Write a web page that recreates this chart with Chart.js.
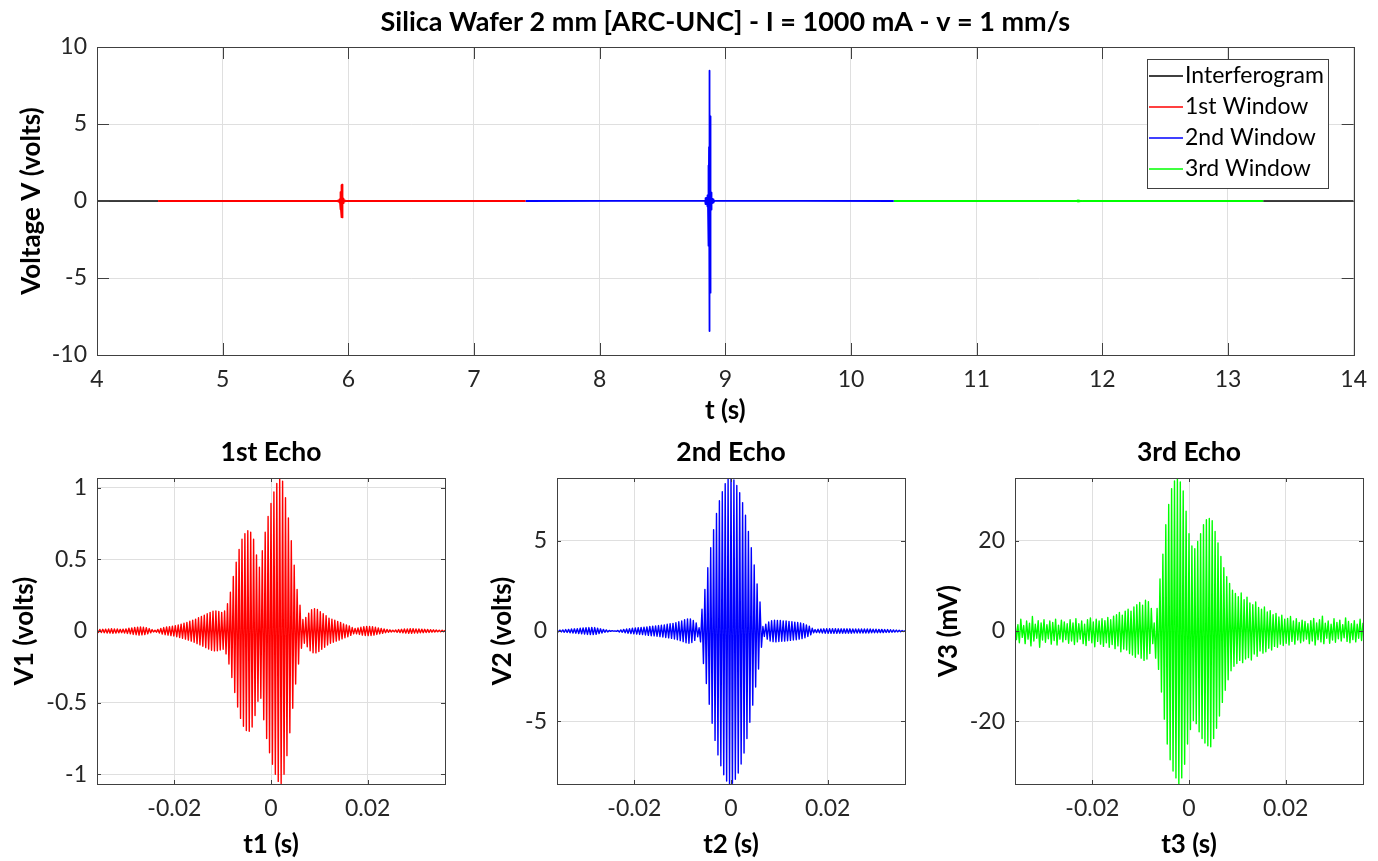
<!DOCTYPE html>
<html>
<head>
<meta charset="utf-8">
<title>Silica Wafer 2 mm [ARC-UNC]</title>
<script src="https://cdn.jsdelivr.net/npm/chart.js@4.4.0/dist/chart.umd.min.js"></script>
<style>
  html, body { margin: 0; padding: 0; background: #fff; }
  #wrap { position: relative; width: 1378px; height: 861px; overflow: hidden; }
  canvas { position: absolute; }
</style>
</head>
<body>
<div id="wrap">
  <canvas id="main" width="1378" height="430" style="left:0px;top:0px"></canvas>
  <canvas id="echo1" width="460" height="431" style="left:0px;top:430px"></canvas>
  <canvas id="echo2" width="460" height="431" style="left:460px;top:430px"></canvas>
  <canvas id="echo3" width="460" height="431" style="left:918px;top:430px"></canvas>
</div>
<script>
// ---- top plot (full interferogram) ----
const mainXTicks = [4, 5, 6, 7, 8, 9, 10, 11, 12, 13, 14];
const mainYTicks = [-10, -5, 0, 5, 10];
const windowEdges = [4.486, 7.41, 10.34, 13.28];   // 1st start, 1st/2nd, 2nd/3rd, 3rd end (s)
const echoCenters = [5.948, 8.875, 11.81];          // centre of each echo in t (s)
const seriesNames = ['Interferogram', '1st Window', '2nd Window', '3rd Window'];
const seriesColors = ['#000000', '#ff0000', '#0000ff', '#00ff00'];

// ---- echo windows ----
const echoXTicks = [-0.02, 0, 0.02];
const echo1YTicks = [-1, -0.5, 0, 0.5, 1];
const echo2YTicks = [-5, 0, 5];
const echo3YTicks = [-20, 0, 20];

// fringe peaks: upper peaks every 0.6 ms from -36 ms,
// lower peaks in between (offset 0.3 ms)
const echoT0 = -0.036;
const echoDT = 0.0003;

// 1st echo (volts)
const v1Hi = [
  0.010, 0.011, 0.012, 0.013, 0.014, 0.016, 0.015, 0.014, 0.012, 0.013,
  0.015, 0.019, 0.022, 0.025, 0.027, 0.028, 0.026, 0.023, 0.017, 0.010,
  0.005, 0.011, 0.018, 0.024, 0.028, 0.030, 0.034, 0.037, 0.042, 0.048,
  0.054, 0.060, 0.068, 0.075, 0.083, 0.092, 0.102, 0.111, 0.121, 0.130,
  0.138, 0.140, 0.136, 0.130, 0.140, 0.190, 0.270, 0.380, 0.480, 0.570,
  0.640, 0.680, 0.700, 0.690, 0.640, 0.530, 0.445, 0.560, 0.690, 0.800,
  0.890, 0.970, 1.030, 1.068, 1.045, 0.930, 0.790, 0.630, 0.460, 0.290,
  0.180, 0.080, 0.095, 0.125, 0.148, 0.155, 0.150, 0.135, 0.120, 0.106,
  0.090, 0.082, 0.075, 0.067, 0.060, 0.050, 0.043, 0.036, 0.024, 0.018,
  0.022, 0.026, 0.030, 0.032, 0.031, 0.030, 0.026, 0.022, 0.018, 0.014,
  0.011, 0.008, 0.006, 0.007, 0.010, 0.012, 0.014, 0.015, 0.016, 0.016,
  0.015, 0.014, 0.013, 0.012, 0.011, 0.009, 0.008, 0.007, 0.006, 0.006,
  0.005
];
const v1Lo = [
  -0.010, -0.011, -0.012, -0.014, -0.015, -0.016, -0.015, -0.013, -0.012, -0.014,
  -0.017, -0.020, -0.024, -0.026, -0.028, -0.027, -0.025, -0.020, -0.013, -0.007,
  -0.008, -0.014, -0.021, -0.026, -0.029, -0.032, -0.035, -0.040, -0.045, -0.051,
  -0.057, -0.064, -0.071, -0.079, -0.088, -0.097, -0.106, -0.116, -0.126, -0.134,
  -0.139, -0.138, -0.133, -0.128, -0.160, -0.230, -0.325, -0.430, -0.530, -0.610,
  -0.665, -0.695, -0.700, -0.670, -0.590, -0.490, -0.470, -0.620, -0.750, -0.850,
  -0.930, -1.000, -1.050, -1.065, -1.000, -0.870, -0.710, -0.540, -0.370, -0.230,
  -0.120, -0.085, -0.110, -0.138, -0.152, -0.153, -0.143, -0.128, -0.113, -0.098,
  -0.086, -0.078, -0.071, -0.064, -0.055, -0.047, -0.040, -0.030, -0.020, -0.019,
  -0.024, -0.028, -0.031, -0.032, -0.031, -0.028, -0.024, -0.020, -0.016, -0.012,
  -0.009, -0.007, -0.006, -0.009, -0.011, -0.013, -0.015, -0.016, -0.016, -0.015,
  -0.015, -0.013, -0.012, -0.011, -0.010, -0.008, -0.007, -0.006, -0.006, -0.005
];

// 2nd echo (volts)
const v2Hi = [
  0.03, 0.05, 0.06, 0.08, 0.09, 0.11, 0.12, 0.13, 0.15, 0.17,
  0.18, 0.19, 0.20, 0.19, 0.16, 0.12, 0.09, 0.06, 0.03, 0.02,
  0.01, 0.03, 0.06, 0.09, 0.11, 0.13, 0.15, 0.17, 0.18, 0.20,
  0.21, 0.23, 0.25, 0.27, 0.28, 0.30, 0.32, 0.34, 0.37, 0.40,
  0.42, 0.46, 0.51, 0.55, 0.62, 0.67, 0.67, 0.58, 0.45, 0.18,
  1.20, 2.30, 3.50, 4.60, 5.60, 6.50, 7.20, 7.70, 8.15, 8.40,
  8.46, 8.35, 8.05, 7.65, 7.10, 6.40, 5.50, 4.60, 3.65, 2.60,
  1.60, 0.25, 0.38, 0.50, 0.57, 0.60, 0.59, 0.58, 0.56, 0.55,
  0.53, 0.51, 0.49, 0.47, 0.44, 0.40, 0.34, 0.27, 0.15, 0.08,
  0.10, 0.11, 0.12, 0.13, 0.13, 0.13, 0.13, 0.12, 0.12, 0.12,
  0.12, 0.12, 0.11, 0.11, 0.11, 0.11, 0.11, 0.11, 0.11, 0.10,
  0.10, 0.09, 0.09, 0.08, 0.08, 0.07, 0.06, 0.05, 0.04, 0.03,
  0.02
];
const v2Lo = [
  -0.04, -0.05, -0.07, -0.08, -0.10, -0.11, -0.12, -0.14, -0.16, -0.17,
  -0.19, -0.20, -0.20, -0.18, -0.14, -0.11, -0.07, -0.05, -0.02, -0.01,
  -0.02, -0.05, -0.07, -0.10, -0.12, -0.14, -0.16, -0.17, -0.19, -0.20,
  -0.22, -0.24, -0.26, -0.27, -0.29, -0.31, -0.33, -0.36, -0.38, -0.41,
  -0.44, -0.48, -0.53, -0.59, -0.65, -0.68, -0.64, -0.52, -0.32, -0.60,
  -1.80, -2.90, -4.05, -5.10, -6.05, -6.85, -7.45, -7.95, -8.30, -8.44,
  -8.42, -8.20, -7.85, -7.35, -6.75, -5.95, -5.05, -4.10, -3.10, -2.10,
  -0.90, -0.30, -0.45, -0.55, -0.59, -0.60, -0.58, -0.57, -0.56, -0.54,
  -0.52, -0.50, -0.48, -0.45, -0.42, -0.37, -0.30, -0.21, -0.10, -0.09,
  -0.10, -0.11, -0.12, -0.13, -0.13, -0.13, -0.13, -0.12, -0.12, -0.12,
  -0.12, -0.12, -0.11, -0.11, -0.11, -0.11, -0.11, -0.11, -0.10, -0.10,
  -0.10, -0.09, -0.09, -0.08, -0.08, -0.07, -0.06, -0.05, -0.04, -0.03
];

// 3rd echo (mV)
const v3Hi = [
  2.1, 1.4, 2.6, 1.2, 2.2, 1.7, 3.2, 1.5, 2.3, 1.8,
  2.5, 1.4, 2.2, 1.9, 2.6, 1.3, 2.4, 2.0, 1.6, 2.5,
  1.8, 2.7, 1.6, 2.2, 1.5, 2.5, 2.9, 2.0, 2.6, 2.2,
  2.7, 2.3, 3.0, 2.5, 3.3, 3.6, 4.1, 3.5, 4.4, 4.8,
  4.4, 5.3, 5.8, 6.3, 5.7, 6.8, 6.5, 5.0, 1.8, 5.0,
  11.5, 17.0, 23.5, 28.0, 31.5, 33.2, 33.8, 33.0, 31.0, 26.5,
  21.5, 18.8, 18.2, 19.8, 21.5, 23.5, 24.6, 24.9, 24.4, 22.0,
  19.5, 16.5, 14.0, 12.0, 10.5, 9.0, 8.3, 7.6, 8.4, 6.9,
  7.5, 6.2, 5.8, 6.4, 5.2, 4.8, 5.3, 4.2, 4.5, 3.6,
  3.9, 3.1, 3.5, 2.6, 2.8, 3.2, 2.2, 2.7, 1.9, 2.4,
  2.1, 1.6, 2.3, 2.8, 1.8, 2.5, 3.3, 1.7, 2.2, 1.5,
  2.7, 1.9, 2.4, 1.4, 2.9, 2.1, 1.6, 2.3, 1.5, 2.6,
  1.8
];
const v3Lo = [
  -1.9, -2.6, -1.4, -2.8, -1.8, -3.3, -2.2, -1.6, -3.6, -2.0,
  -2.5, -1.7, -2.9, -2.1, -3.1, -1.8, -2.4, -1.9, -2.7, -2.2,
  -3.0, -2.4, -1.8, -2.8, -3.2, -2.1, -2.6, -3.5, -2.3, -2.9,
  -3.4, -2.6, -3.6, -3.0, -3.9, -3.3, -4.6, -4.0, -4.2, -5.0,
  -5.3, -5.8, -5.1, -6.0, -6.5, -6.2, -5.0, -2.8, -6.0, -8.5,
  -13.5, -19.5, -25.0, -28.5, -31.0, -32.5, -33.8, -32.5, -29.5, -25.0,
  -21.8, -19.8, -20.5, -22.3, -23.8, -24.8, -25.4, -25.6, -23.8, -21.5,
  -18.8, -15.8, -13.1, -10.8, -8.8, -7.8, -7.2, -6.5, -7.0, -6.2,
  -5.9, -6.4, -5.1, -5.6, -4.4, -4.9, -4.6, -3.8, -4.2, -3.4,
  -3.6, -2.9, -3.2, -2.7, -3.1, -2.3, -2.9, -2.0, -2.6, -2.2,
  -1.8, -2.8, -2.2, -3.1, -1.9, -2.4, -2.8, -1.6, -2.7, -2.0,
  -2.5, -1.7, -2.2, -1.5, -2.3, -2.6, -1.9, -2.4, -1.6, -2.1
];

/**
 * Interleave upper and lower fringe peaks into one {x, y} series
 */
function buildEcho(hi, lo, scale) {
  const pts = [];
  const n = hi.length + lo.length;
  for (let i = 0; i < n; i++) {
    const v = i % 2 === 0 ? hi[i / 2] : lo[(i - 1) / 2];
    pts.push({ x: +(echoT0 + i * echoDT).toFixed(5), y: v * scale });
  }
  return pts;
}

function shiftTo(pts, t0) {
  return pts.map(p => ({ x: t0 + p.x, y: p.y }));
}

const echo1 = buildEcho(v1Hi, v1Lo, 1);
const echo2 = buildEcho(v2Hi, v2Lo, 1);
const echo3 = buildEcho(v3Hi, v3Lo, 1);          // mV
const echo3Volts = buildEcho(v3Hi, v3Lo, 0.001); // for the top plot

const echoInMain = [
  shiftTo(echo1, echoCenters[0]),
  shiftTo(echo2, echoCenters[1]),
  shiftTo(echo3Volts, echoCenters[2])
];

const tStart = mainXTicks[0];
const tEnd = mainXTicks[mainXTicks.length - 1];
const interferogram = [{ x: tStart, y: 0 }, { x: windowEdges[0], y: 0 }]
  .concat(echoInMain[0], echoInMain[1], echoInMain[2])
  .concat([{ x: windowEdges[3], y: 0 }, { x: tEnd, y: 0 }]);

function windowSeries(i) {
  return [{ x: windowEdges[i], y: 0 }].concat(echoInMain[i], [{ x: windowEdges[i + 1], y: 0 }]);
}

// the interferogram only shows where no window is drawn over it
function outsideWindows(ctx) {
  const a = ctx.p0.parsed.x, b = ctx.p1.parsed.x;
  return (b <= windowEdges[0] || a >= windowEdges[3]) ? '#000000' : 'rgba(0,0,0,0)';
}

// ---- shared styling ----
const FONT = 'Lato';
const tickFont = { family: FONT, size: 23 };
const labelFont = { family: FONT, size: 26, weight: 'bold' };

// MATLAB-like box with inward tick marks
const matlabBox = {
  id: 'matlabBox',
  afterDatasetsDraw(chart, args, opts) {
    const { ctx, chartArea: a, scales: { x, y } } = chart;
    const len = opts.tickLen || 4;
    ctx.save();
    ctx.strokeStyle = '#404040';
    ctx.lineWidth = 1;
    ctx.beginPath();
    x.ticks.forEach(t => {
      const px = Math.round(x.getPixelForValue(t.value)) + 0.5;
      ctx.moveTo(px, a.bottom); ctx.lineTo(px, a.bottom - len);
      ctx.moveTo(px, a.top); ctx.lineTo(px, a.top + len);
    });
    y.ticks.forEach(t => {
      const py = Math.round(y.getPixelForValue(t.value)) + 0.5;
      ctx.moveTo(a.left, py); ctx.lineTo(a.left + len, py);
      ctx.moveTo(a.right, py); ctx.lineTo(a.right - len, py);
    });
    ctx.stroke();
    ctx.strokeRect(Math.round(a.left) + 0.5, Math.round(a.top) + 0.5,
      Math.round(a.right - a.left), Math.round(a.bottom - a.top));
    ctx.restore();
  }
};

// title centred over the plot area
const panelTitle = {
  id: 'panelTitle',
  afterDraw(chart, args, opts) {
    if (!opts.text) return;
    const { ctx, chartArea: a } = chart;
    ctx.save();
    ctx.font = 'bold ' + opts.size + 'px ' + FONT;
    ctx.fillStyle = '#000';
    ctx.textAlign = 'center';
    ctx.textBaseline = 'middle';
    ctx.fillText(opts.text, (a.left + a.right) / 2, opts.y);
    ctx.restore();
  }
};

// boxed legend inside the top plot
const boxLegend = {
  id: 'boxLegend',
  afterDraw(chart, args, opts) {
    if (!opts.show) return;
    const { ctx } = chart;
    ctx.save();
    ctx.fillStyle = '#fff';
    ctx.fillRect(opts.left, opts.top, opts.width, opts.height);
    ctx.strokeStyle = '#404040';
    ctx.lineWidth = 1;
    ctx.strokeRect(opts.left + 0.5, opts.top + 0.5, opts.width, opts.height);
    ctx.font = '23px ' + FONT;
    ctx.textAlign = 'left';
    ctx.textBaseline = 'middle';
    chart.data.datasets.forEach((ds, i) => {
      const yy = opts.top + opts.first + i * opts.row;
      ctx.strokeStyle = ds.legendColor;
      ctx.lineWidth = 1.6;
      ctx.beginPath();
      ctx.moveTo(opts.left + 2, yy);
      ctx.lineTo(opts.left + 36, yy);
      ctx.stroke();
      ctx.fillStyle = '#000';
      ctx.fillText(ds.label, opts.left + 38, yy);
    });
    ctx.restore();
  }
};

function axisOptions(cfg) {
  return {
    x: {
      type: 'linear',
      min: cfg.xMin, max: cfg.xMax,
      afterBuildTicks: s => { s.ticks = cfg.xTicks.map(v => ({ value: v })); },
      afterFit: s => { s.height = cfg.xHeight; },
      grid: { color: '#dfdfdf', drawTicks: false },
      border: { display: false },
      ticks: { font: tickFont, color: '#262626', padding: 11, maxRotation: 0, autoSkip: false,
        callback: v => String(v) },
      title: { display: true, text: cfg.xTitle, font: labelFont, color: '#000',
        padding: { top: 0, bottom: cfg.xTitlePad } }
    },
    y: {
      type: 'linear',
      min: cfg.yMin, max: cfg.yMax,
      afterBuildTicks: s => { s.ticks = cfg.yTicks.map(v => ({ value: v })); },
      afterFit: s => { s.width = 97; },
      grid: { color: '#dfdfdf', drawTicks: false },
      border: { display: false },
      ticks: { font: tickFont, color: '#262626', padding: 10, autoSkip: false,
        callback: v => String(v) },
      title: { display: true, text: cfg.yTitle, font: labelFont, color: '#000',
        padding: { top: cfg.yTitlePad, bottom: 0 } }
    }
  };
}

const baseOptions = {
  responsive: false,
  animation: false,
  events: [],
  elements: { point: { radius: 0 }, line: { tension: 0, borderJoinStyle: 'round' } }
};

// top chart
new Chart(document.getElementById('main'), {
  type: 'line',
  data: {
    datasets: [
      { label: seriesNames[0], data: interferogram, borderColor: seriesColors[0], legendColor: seriesColors[0],
        borderWidth: 1.5, order: 1, segment: { borderColor: outsideWindows } },
      { label: seriesNames[1], data: windowSeries(0), borderColor: seriesColors[1], legendColor: seriesColors[1],
        borderWidth: 1.8, order: 0 },
      { label: seriesNames[2], data: windowSeries(1), borderColor: seriesColors[2], legendColor: seriesColors[2],
        borderWidth: 1.8, order: 0 },
      { label: seriesNames[3], data: windowSeries(2), borderColor: seriesColors[3], legendColor: seriesColors[3],
        borderWidth: 1.8, order: 0 }
    ]
  },
  options: Object.assign({}, baseOptions, {
    layout: { padding: { top: 47, right: 15, left: 0, bottom: 0 } },
    scales: axisOptions({
      xMin: 4, xMax: 14, xTicks: mainXTicks, xHeight: 75, xTitle: 't (s)', xTitlePad: 4,
      yMin: -10, yMax: 10, yTicks: mainYTicks, yTitle: 'Voltage V (volts)', yTitlePad: 16
    }),
    plugins: {
      legend: { display: false },
      tooltip: { enabled: false },
      matlabBox: { tickLen: 12 },
      panelTitle: { text: 'Silica Wafer 2 mm [ARC-UNC] - I = 1000 mA - v = 1 mm/s', size: 27, y: 22 },
      boxLegend: { show: true, left: 1147, top: 59, width: 181, height: 129, first: 17, row: 31 }
    }
  }),
  plugins: [matlabBox, panelTitle, boxLegend]
});

// echo charts
const echoCharts = [
  { id: 'echo1', data: echo1, color: seriesColors[1], title: '1st Echo', xTitle: 't1 (s)', yTitle: 'V1 (volts)',
    yLim: 1.068, yTicks: echo1YTicks, yTitlePad: 9 },
  { id: 'echo2', data: echo2, color: seriesColors[2], title: '2nd Echo', xTitle: 't2 (s)', yTitle: 'V2 (volts)',
    yLim: 8.46, yTicks: echo2YTicks, yTitlePad: 27 },
  { id: 'echo3', data: echo3, color: seriesColors[3], title: '3rd Echo', xTitle: 't3 (s)', yTitle: 'V3 (mV)',
    yLim: 33.85, yTicks: echo3YTicks, yTitlePad: 15 }
];

echoCharts.forEach(c => {
  new Chart(document.getElementById(c.id), {
    type: 'line',
    data: { datasets: [{ label: c.title, data: c.data, borderColor: c.color, borderWidth: 1.4 }] },
    options: Object.assign({}, baseOptions, {
      layout: { padding: { top: 48, right: 15, left: 0, bottom: 0 } },
      scales: axisOptions({
        xMin: -0.036, xMax: 0.036, xTicks: echoXTicks, xHeight: 77, xTitle: c.xTitle, xTitlePad: 1,
        yMin: -c.yLim, yMax: c.yLim, yTicks: c.yTicks, yTitle: c.yTitle, yTitlePad: c.yTitlePad
      }),
      plugins: {
        legend: { display: false },
        tooltip: { enabled: false },
        matlabBox: { tickLen: 4 },
        panelTitle: { text: c.title, size: 26.5, y: 22.5 },
        boxLegend: { show: false }
      }
    }),
    plugins: [matlabBox, panelTitle, boxLegend]
  });
});
</script>
</body>
</html>
